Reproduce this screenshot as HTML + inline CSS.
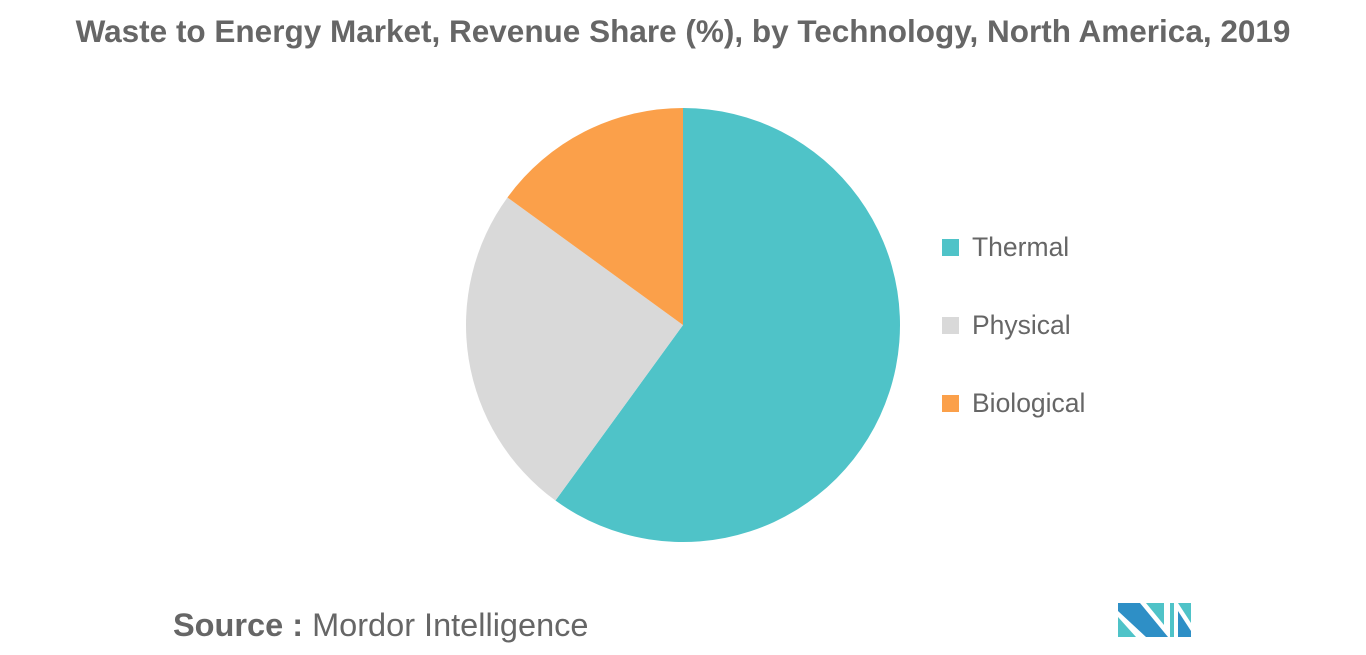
<!DOCTYPE html>
<html><head><meta charset="utf-8"><style>
body{margin:0;width:1366px;height:655px;background:#fff;font-family:"Liberation Sans",sans-serif;overflow:hidden;position:relative}
#title{position:absolute;top:13px;left:0;width:1366px;text-align:center;font-size:31.5px;font-weight:bold;color:#666}
.leg{position:absolute;left:942px;font-size:26.5px;color:#666}
.sw{position:absolute;left:942px;width:17px;height:17px}
#src{position:absolute;left:173px;top:607px;font-size:32.5px;color:#666}
</style></head><body>
<div id="title">Waste to Energy Market, Revenue Share (%), by Technology, North America, 2019</div>
<svg id="pie" width="1366" height="655" style="position:absolute;left:0;top:0"></svg>
<div class="sw" style="top:239px;background:#4fc3c8"></div>
<div class="leg" style="top:232px;left:972px">Thermal</div>
<div class="sw" style="top:317px;background:#d9d9d9"></div>
<div class="leg" style="top:310px;left:972px">Physical</div>
<div class="sw" style="top:395px;background:#fba04a"></div>
<div class="leg" style="top:388px;left:972px">Biological</div>
<div id="src"><b>Source :</b> Mordor Intelligence</div>
<svg width="74" height="36" style="position:absolute;left:1118px;top:603px">
<polygon points="0,0 22,0 50,34 28,34 0,8" fill="#2e8fc6"/>
<polygon points="0,14 18,34 0,34" fill="#4fc3c8"/>
<polygon points="28,0 46,0 46,22" fill="#4fc3c8"/>
<polygon points="52,0 56,0 56,34 52,34" fill="#4fc3c8"/>
<polygon points="60,0 73,0 73,20" fill="#4fc3c8"/>
<polygon points="60,8 73,28 73,34 60,34" fill="#2e8fc6"/>
</svg>
<script>
const categories=["Thermal","Physical","Biological"];
const values=[60,25,15];
const colors=["#4fc3c8","#d9d9d9","#fba04a"];
const cx=683,cy=325,r=217;
const svg=document.getElementById('pie');
const total=values.reduce((a,b)=>a+b,0);
let a0=0;
values.forEach((v,i)=>{
  const a1=a0+v/total*2*Math.PI;
  const x0=cx+r*Math.sin(a0),y0=cy-r*Math.cos(a0),x1=cx+r*Math.sin(a1),y1=cy-r*Math.cos(a1);
  const p=document.createElementNS('http://www.w3.org/2000/svg','path');
  p.setAttribute('d',`M${cx},${cy}L${x0},${y0}A${r},${r} 0 ${a1-a0>Math.PI?1:0} 1 ${x1},${y1}Z`);
  p.setAttribute('fill',colors[i]);
  
  
  svg.appendChild(p);
  a0=a1;
});
</script>
</body></html>
